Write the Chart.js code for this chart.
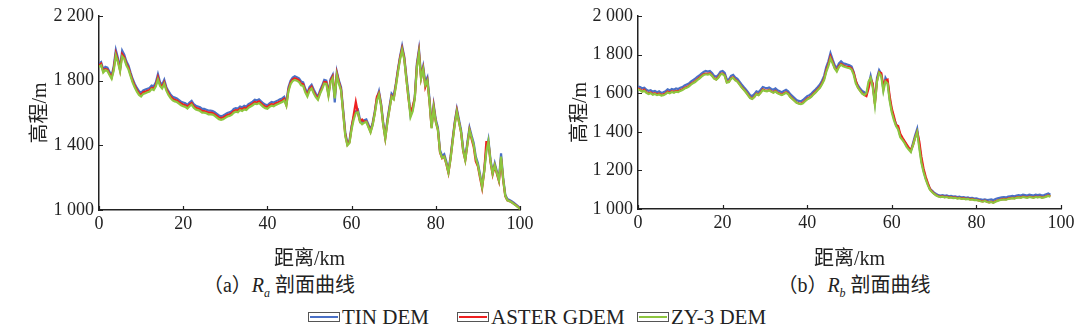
<!DOCTYPE html>
<html lang="zh">
<head>
<meta charset="UTF-8">
<title>剖面曲线</title>
<script src="https://cdn.jsdelivr.net/npm/chart.js@4.4.1/dist/chart.umd.min.js"></script>
<style>
  body { margin: 0; background: #fff; }
  .wrap { position: relative; width: 1088px; height: 329px; font-family: "Times New Roman", "Liberation Serif", "DejaVu Serif", "Noto Sans CJK SC", serif; color: #222; }
  canvas { position: absolute; top: 0; }
  #chartA { left: 0; }
  #chartB { left: 544px; }
  .cap { position: absolute; top: 273px; font-size: 20px; line-height: 24px; white-space: nowrap; transform: translateX(-50%); }
  .cap i { font-style: italic; }
  .cap sub { font-size: 12px; font-style: italic; }
  .item { position: absolute; top: 305px; font-size: 21px; line-height: 24px; white-space: nowrap; display: flex; align-items: center; }
  .box { width: 30px; height: 8px; border: 1px solid #555; position: relative; margin-right: 2px; background: #fff; }
  .box span { position: absolute; left: 1px; right: 1px; top: 3px; height: 2px; }
</style>
</head>
<body>
<div class="wrap" id="wrap">
  <canvas id="chartA" width="544" height="272"></canvas>
  <canvas id="chartB" width="544" height="272"></canvas>
  <div class="cap" style="left:279px">（a）<i>R</i><sub>a</sub> 剖面曲线</div>
  <div class="cap" style="left:854px">（b）<i>R</i><sub>b</sub> 剖面曲线</div>
</div>
<script>
// sample spacing along the profile, km
const STEP = 0.5;
const seriesNames = ['TIN DEM', 'ASTER GDEM', 'ZY-3 DEM'];
const seriesColors = ['#4a70c6', '#ee2020', '#8dc63f'];
const xTicks = [0, 20, 40, 60, 80, 100];
const yTicksA = [1000, 1400, 1800, 2200];
const yTicksB = [1000, 1200, 1400, 1600, 1800, 2000];

// profile Ra, elevation in m
const raTin = [
  1905,1915,1870,1885,1880,1855,1830,1890,1990,1940,
  1880,1985,1960,1920,1895,1850,1810,1780,1755,1735,
  1725,1740,1745,1750,1755,1770,1765,1790,1840,1790,
  1775,1805,1760,1735,1715,1700,1695,1690,1680,1670,
  1665,1660,1650,1665,1675,1655,1645,1640,1635,1625,
  1625,1620,1615,1615,1612,1605,1595,1585,1580,1585,
  1592,1600,1605,1610,1625,1630,1628,1640,1635,1645,
  1640,1655,1662,1670,1682,1678,1685,1672,1660,1652,
  1648,1660,1668,1665,1672,1678,1685,1690,1700,1665,
  1760,1800,1820,1828,1822,1815,1795,1790,1750,1725,
  1760,1775,1745,1720,1700,1740,1770,1805,1800,1725,
  1810,1835,1665,1855,1800,1760,1620,1480,1415,1430,
  1520,1575,1610,1620,1560,1545,1555,1560,1530,1495,
  1540,1610,1690,1735,1660,1545,1455,1560,1640,1720,
  1705,1780,1870,1950,2015,1950,1830,1720,1585,1620,
  1700,1905,1995,1830,1890,1790,1820,1690,1520,1650,
  1560,1510,1370,1335,1345,1300,1240,1330,1440,1545,
  1625,1560,1495,1380,1320,1420,1510,1460,1415,1330,
  1290,1220,1150,1250,1370,1435,1310,1235,1290,1240,
  1190,1350,1200,1095,1068,1062,1055,1045,1035,1025,
  1012
];
const raAster = [
  1895,1905,1860,1872,1868,1842,1820,1875,1970,1925,
  1865,1965,1945,1905,1880,1838,1798,1768,1742,1722,
  1712,1728,1732,1738,1742,1755,1752,1775,1822,1776,
  1762,1790,1748,1722,1702,1688,1682,1678,1668,1658,
  1652,1648,1638,1652,1662,1642,1632,1628,1622,1612,
  1612,1608,1602,1602,1600,1592,1582,1572,1568,1572,
  1580,1588,1592,1598,1612,1618,1615,1628,1622,1632,
  1628,1642,1650,1658,1668,1665,1672,1660,1648,1640,
  1636,1648,1655,1652,1660,1665,1672,1678,1688,1650,
  1745,1788,1808,1815,1810,1802,1782,1778,1738,1712,
  1748,1762,1732,1708,1690,1728,1758,1792,1790,1715,
  1800,1825,1700,1845,1790,1745,1605,1465,1405,1420,
  1510,1590,1668,1600,1548,1560,1545,1548,1518,1485,
  1530,1600,1700,1725,1650,1530,1445,1545,1628,1705,
  1690,1770,1860,1940,2000,1940,1815,1690,1600,1640,
  1690,1890,1980,1815,1875,1760,1800,1670,1510,1640,
  1545,1495,1355,1320,1330,1285,1230,1318,1430,1535,
  1615,1545,1480,1365,1310,1405,1495,1440,1390,1300,
  1270,1200,1135,1240,1420,1420,1295,1220,1275,1225,
  1178,1320,1185,1085,1060,1055,1048,1040,1030,1020,
  1008
];
const raZy3 = [
  1885,1895,1850,1865,1860,1835,1812,1862,1955,1915,
  1858,1950,1935,1895,1870,1828,1788,1758,1732,1712,
  1702,1718,1722,1728,1732,1748,1742,1765,1808,1768,
  1752,1780,1738,1712,1692,1678,1672,1668,1658,1648,
  1642,1638,1628,1642,1652,1632,1622,1618,1612,1602,
  1602,1598,1592,1592,1590,1582,1572,1562,1558,1562,
  1570,1578,1582,1588,1602,1608,1605,1618,1612,1622,
  1618,1632,1640,1648,1658,1655,1662,1650,1638,1630,
  1626,1638,1645,1642,1650,1655,1662,1668,1678,1645,
  1735,1778,1798,1805,1800,1792,1772,1768,1728,1702,
  1738,1752,1722,1698,1682,1718,1748,1782,1780,1705,
  1790,1815,1690,1835,1780,1738,1598,1458,1400,1415,
  1500,1560,1600,1605,1545,1530,1540,1545,1512,1480,
  1525,1595,1675,1715,1645,1528,1442,1540,1622,1700,
  1685,1762,1850,1930,1990,1932,1810,1700,1575,1610,
  1685,1880,1970,1812,1870,1772,1800,1672,1505,1632,
  1545,1495,1358,1322,1330,1288,1232,1315,1425,1528,
  1608,1545,1482,1368,1308,1405,1495,1448,1402,1318,
  1278,1210,1142,1238,1360,1425,1300,1225,1278,1230,
  1182,1330,1190,1088,1060,1055,1048,1038,1028,1018,
  1005
];

// profile Rb, elevation in m (ends at 97.5 km)
const rbTin = [
  1635,1632,1625,1628,1618,1612,1615,1608,1612,1605,
  1610,1602,1605,1610,1620,1615,1622,1618,1625,1622,
  1628,1632,1640,1645,1650,1660,1668,1675,1685,1692,
  1702,1710,1715,1712,1715,1705,1690,1685,1695,1712,
  1715,1705,1670,1672,1690,1695,1682,1675,1660,1645,
  1632,1620,1605,1590,1585,1595,1610,1605,1618,1632,
  1628,1625,1630,1622,1618,1625,1615,1610,1605,1612,
  1618,1610,1595,1585,1575,1565,1560,1558,1565,1575,
  1585,1590,1598,1610,1620,1632,1645,1665,1690,1735,
  1765,1808,1775,1745,1730,1755,1765,1755,1752,1748,
  1745,1738,1710,1660,1640,1625,1612,1605,1595,1640,
  1690,1640,1555,1680,1720,1700,1620,1680,1660,1570,
  1510,1470,1440,1420,1380,1365,1350,1330,1315,1300,
  1340,1380,1415,1330,1250,1200,1160,1130,1105,1095,
  1085,1078,1072,1070,1072,1068,1070,1066,1068,1064,
  1066,1062,1064,1060,1062,1058,1060,1056,1058,1054,
  1055,1052,1050,1048,1050,1046,1048,1050,1046,1052,
  1055,1058,1060,1062,1060,1064,1066,1068,1066,1070,
  1072,1070,1074,1072,1070,1074,1072,1070,1074,1072,
  1074,1070,1072,1076,1080,1074
];
const rbAster = [
  1625,1620,1612,1618,1605,1600,1604,1596,1600,1594,
  1598,1590,1594,1598,1608,1603,1610,1606,1612,1610,
  1615,1620,1628,1632,1638,1648,1655,1662,1672,1680,
  1690,1698,1702,1700,1703,1692,1678,1672,1684,1700,
  1702,1692,1658,1660,1678,1682,1670,1662,1648,1632,
  1620,1608,1592,1578,1572,1582,1598,1592,1605,1620,
  1615,1612,1618,1610,1605,1612,1602,1598,1592,1600,
  1605,1598,1582,1572,1562,1552,1548,1545,1552,1562,
  1572,1578,1585,1598,1608,1620,1632,1652,1675,1718,
  1750,1790,1762,1732,1718,1740,1752,1745,1740,1736,
  1735,1728,1705,1665,1630,1615,1600,1592,1585,1625,
  1675,1650,1545,1665,1710,1705,1640,1665,1670,1585,
  1520,1480,1435,1430,1390,1370,1352,1335,1318,1305,
  1330,1370,1400,1350,1270,1210,1168,1135,1105,1090,
  1080,1072,1066,1064,1066,1062,1064,1060,1062,1058,
  1060,1056,1058,1054,1056,1052,1054,1050,1052,1048,
  1048,1045,1042,1040,1043,1038,1035,1038,1034,1040,
  1044,1048,1050,1052,1050,1054,1056,1058,1056,1060,
  1062,1060,1064,1062,1060,1064,1062,1060,1064,1062,
  1064,1060,1062,1066,1070,1066
];
const rbZy3 = [
  1620,1615,1608,1612,1602,1596,1600,1592,1596,1590,
  1594,1588,1590,1595,1604,1600,1606,1602,1608,1606,
  1612,1616,1624,1628,1634,1644,1652,1658,1668,1676,
  1686,1694,1698,1696,1700,1690,1675,1670,1680,1697,
  1700,1690,1655,1658,1675,1680,1666,1660,1645,1630,
  1618,1605,1590,1575,1570,1580,1595,1590,1602,1616,
  1612,1610,1615,1608,1602,1608,1600,1595,1590,1596,
  1602,1595,1580,1570,1560,1550,1545,1543,1548,1558,
  1568,1574,1582,1594,1604,1616,1628,1646,1668,1710,
  1740,1780,1755,1728,1712,1735,1748,1740,1736,1732,
  1730,1722,1695,1650,1628,1612,1598,1590,1600,1660,
  1680,1630,1540,1660,1705,1690,1610,1660,1650,1560,
  1500,1460,1430,1412,1372,1358,1342,1322,1308,1295,
  1330,1368,1398,1315,1240,1192,1155,1125,1100,1088,
  1078,1070,1065,1062,1064,1060,1062,1058,1060,1056,
  1058,1054,1056,1052,1054,1050,1052,1048,1050,1046,
  1046,1044,1040,1038,1042,1036,1034,1036,1032,1038,
  1042,1046,1048,1050,1048,1052,1054,1056,1054,1058,
  1060,1058,1062,1060,1058,1062,1060,1058,1062,1060,
  1062,1058,1060,1064,1068,1064
];

const FONT = '"Times New Roman", "Liberation Serif", "DejaVu Serif", "Noto Sans CJK SC", serif';
const INK = '#222';

function fmt(v) {
  if (v < 1000) return String(v);
  return Math.floor(v / 1000) + ' ' + String(v % 1000).padStart(3, '0');
}

// ticks pointing into the plot, like the original figure
const innerTicks = {
  id: 'innerTicks',
  afterDraw(chart) {
    const { ctx, chartArea: a, scales: { x, y } } = chart;
    ctx.save();
    ctx.strokeStyle = INK;
    ctx.lineWidth = 1.2;
    ctx.beginPath();
    x.ticks.forEach(t => {
      const px = Math.round(x.getPixelForValue(t.value)) + 0.5;
      ctx.moveTo(px, a.bottom); ctx.lineTo(px, a.bottom - 4);
    });
    y.ticks.forEach(t => {
      const py = Math.round(y.getPixelForValue(t.value)) + 0.5;
      ctx.moveTo(a.left, py); ctx.lineTo(a.left + 4, py);
    });
    ctx.stroke();
    ctx.restore();
  }
};

function makeChart(id, series, yTicks, yWidth, xHeight, padRight, yTitlePad) {
  const datasets = series.map((vals, i) => ({
    label: seriesNames[i],
    data: vals.map((v, k) => ({ x: k * STEP, y: v })),
    borderColor: seriesColors[i],
    borderWidth: 2.2,
    pointRadius: 0,
    tension: 0,
    order: 3 - i
  }));
  return new Chart(document.getElementById(id), {
    type: 'line',
    data: { datasets },
    options: {
      responsive: false,
      animation: false,
      devicePixelRatio: 1,
      layout: { padding: { top: 16, right: padRight, left: 0, bottom: 0 } },
      plugins: { legend: { display: false }, tooltip: { enabled: false } },
      scales: {
        x: {
          type: 'linear',
          min: xTicks[0], max: xTicks[xTicks.length - 1],
          afterBuildTicks: s => { s.ticks = xTicks.map(v => ({ value: v })); },
          afterFit: s => { s.height = xHeight; },
          grid: { display: false, drawTicks: false },
          border: { display: true, color: INK, width: 1.5 },
          ticks: { color: INK, padding: 3, maxRotation: 0, font: { family: FONT, size: 18 } },
          title: { display: true, text: '距离/km', color: INK, padding: { top: 0, bottom: 0 }, font: { family: FONT, size: 20 } }
        },
        y: {
          min: yTicks[0], max: yTicks[yTicks.length - 1],
          afterBuildTicks: s => { s.ticks = yTicks.map(v => ({ value: v })); },
          afterFit: s => { s.width = yWidth; },
          grid: { display: false, drawTicks: false },
          border: { display: true, color: INK, width: 1.5 },
          ticks: { color: INK, padding: 5, callback: v => fmt(v), font: { family: FONT, size: 18 } },
          title: { display: true, text: '高程/m', color: INK, padding: { top: yTitlePad, bottom: 0 }, font: { family: FONT, size: 20 } }
        }
      }
    },
    plugins: [innerTicks]
  });
}

makeChart('chartA', [raTin, raAster, raZy3], yTicksA, 99, 62, 24, 29);
makeChart('chartB', [rbTin, rbAster, rbZy3], yTicksB, 94, 63, 27, 25);

// shared legend below both panels
const legendLeft = [308, 457, 637];
const wrap = document.getElementById('wrap');
seriesNames.forEach((name, i) => {
  const item = document.createElement('div');
  item.className = 'item';
  item.style.left = legendLeft[i] + 'px';
  item.innerHTML = '<div class="box"><span style="background:' + seriesColors[i] + '"></span></div>' + name;
  wrap.appendChild(item);
});
</script>
</body>
</html>
